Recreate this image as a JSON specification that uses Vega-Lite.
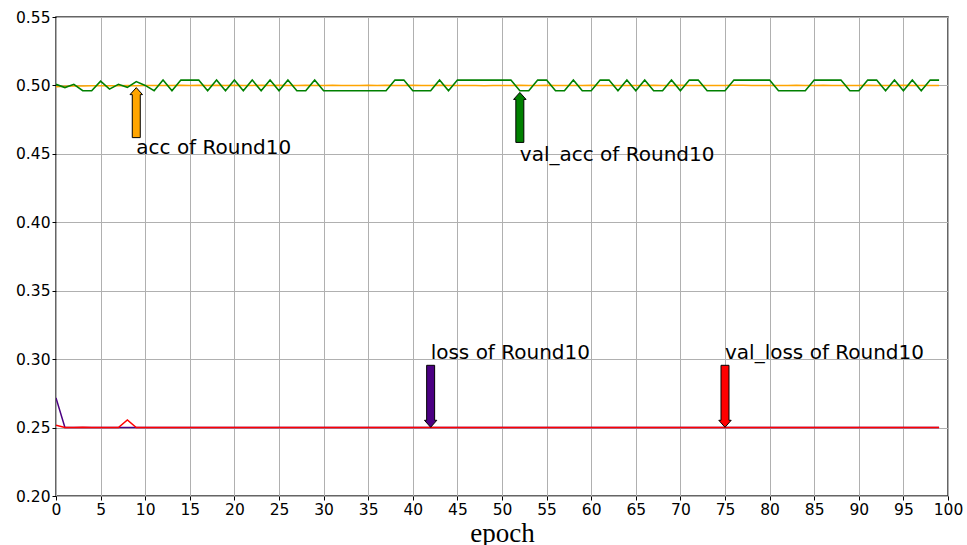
{
  "$schema": "https://vega.github.io/schema/vega-lite/v6.json",
  "width": 892,
  "height": 479,
  "autosize": "none",
  "padding": {"left": 56, "top": 17, "right": 19, "bottom": 49},
  "background": "white",
  "config": {
    "view": {"stroke": "#333333", "strokeWidth": 1.5},
    "font": "DejaVu Sans",
    "axis": {
      "labelFont": "DejaVu Sans",
      "labelFontSize": 15.5,
      "labelColor": "black",
      "labelFlush": false,
      "labelOverlap": false,
      "tickColor": "black",
      "tickSize": 4,
      "labelPadding": 2,
      "gridColor": "#b0b0b0",
      "gridWidth": 1,
      "domain": false
    }
  },
  "datasets": {
    "hist": [
      {"epoch":0,"acc":0.4991,"val_acc":0.5008,"loss":0.2717,"val_loss":0.2517},
      {"epoch":1,"acc":0.4994,"val_acc":0.4984,"loss":0.2501,"val_loss":0.2500},
      {"epoch":2,"acc":0.4995,"val_acc":0.5008,"loss":0.2500,"val_loss":0.2500},
      {"epoch":3,"acc":0.4996,"val_acc":0.4961,"loss":0.2500,"val_loss":0.2503},
      {"epoch":4,"acc":0.4997,"val_acc":0.4961,"loss":0.2500,"val_loss":0.2500},
      {"epoch":5,"acc":0.4997,"val_acc":0.5031,"loss":0.2500,"val_loss":0.2500},
      {"epoch":6,"acc":0.4998,"val_acc":0.4973,"loss":0.2500,"val_loss":0.2500},
      {"epoch":7,"acc":0.4998,"val_acc":0.5008,"loss":0.2500,"val_loss":0.2500},
      {"epoch":8,"acc":0.4999,"val_acc":0.4986,"loss":0.2500,"val_loss":0.2556},
      {"epoch":9,"acc":0.4998,"val_acc":0.5028,"loss":0.2500,"val_loss":0.2500},
      {"epoch":10,"acc":0.4999,"val_acc":0.5000,"loss":0.2500,"val_loss":0.2500},
      {"epoch":11,"acc":0.5000,"val_acc":0.4961,"loss":0.2500,"val_loss":0.2500},
      {"epoch":12,"acc":0.4999,"val_acc":0.5039,"loss":0.2500,"val_loss":0.2500},
      {"epoch":13,"acc":0.5000,"val_acc":0.4961,"loss":0.2500,"val_loss":0.2500},
      {"epoch":14,"acc":0.5001,"val_acc":0.5039,"loss":0.2500,"val_loss":0.2500},
      {"epoch":15,"acc":0.5000,"val_acc":0.5039,"loss":0.2500,"val_loss":0.2500},
      {"epoch":16,"acc":0.5001,"val_acc":0.5039,"loss":0.2500,"val_loss":0.2500},
      {"epoch":17,"acc":0.5000,"val_acc":0.4961,"loss":0.2500,"val_loss":0.2500},
      {"epoch":18,"acc":0.5001,"val_acc":0.5039,"loss":0.2500,"val_loss":0.2500},
      {"epoch":19,"acc":0.5000,"val_acc":0.4961,"loss":0.2500,"val_loss":0.2500},
      {"epoch":20,"acc":0.5001,"val_acc":0.5039,"loss":0.2500,"val_loss":0.2500},
      {"epoch":21,"acc":0.5000,"val_acc":0.4961,"loss":0.2500,"val_loss":0.2500},
      {"epoch":22,"acc":0.5000,"val_acc":0.5039,"loss":0.2500,"val_loss":0.2500},
      {"epoch":23,"acc":0.5001,"val_acc":0.4961,"loss":0.2500,"val_loss":0.2500},
      {"epoch":24,"acc":0.5000,"val_acc":0.5039,"loss":0.2500,"val_loss":0.2500},
      {"epoch":25,"acc":0.5001,"val_acc":0.4961,"loss":0.2500,"val_loss":0.2500},
      {"epoch":26,"acc":0.5000,"val_acc":0.5039,"loss":0.2500,"val_loss":0.2500},
      {"epoch":27,"acc":0.5000,"val_acc":0.4961,"loss":0.2500,"val_loss":0.2500},
      {"epoch":28,"acc":0.5001,"val_acc":0.4961,"loss":0.2500,"val_loss":0.2500},
      {"epoch":29,"acc":0.5000,"val_acc":0.5039,"loss":0.2500,"val_loss":0.2500},
      {"epoch":30,"acc":0.5000,"val_acc":0.4961,"loss":0.2500,"val_loss":0.2500},
      {"epoch":31,"acc":0.5001,"val_acc":0.4961,"loss":0.2500,"val_loss":0.2500},
      {"epoch":32,"acc":0.5000,"val_acc":0.4961,"loss":0.2500,"val_loss":0.2500},
      {"epoch":33,"acc":0.4999,"val_acc":0.4961,"loss":0.2500,"val_loss":0.2500},
      {"epoch":34,"acc":0.5000,"val_acc":0.4961,"loss":0.2500,"val_loss":0.2500},
      {"epoch":35,"acc":0.5001,"val_acc":0.4961,"loss":0.2500,"val_loss":0.2500},
      {"epoch":36,"acc":0.5000,"val_acc":0.4961,"loss":0.2500,"val_loss":0.2500},
      {"epoch":37,"acc":0.5001,"val_acc":0.4961,"loss":0.2500,"val_loss":0.2500},
      {"epoch":38,"acc":0.5000,"val_acc":0.5039,"loss":0.2500,"val_loss":0.2500},
      {"epoch":39,"acc":0.5000,"val_acc":0.5039,"loss":0.2500,"val_loss":0.2500},
      {"epoch":40,"acc":0.5001,"val_acc":0.4961,"loss":0.2500,"val_loss":0.2500},
      {"epoch":41,"acc":0.5000,"val_acc":0.4961,"loss":0.2500,"val_loss":0.2500},
      {"epoch":42,"acc":0.5000,"val_acc":0.4961,"loss":0.2500,"val_loss":0.2500},
      {"epoch":43,"acc":0.5001,"val_acc":0.5039,"loss":0.2500,"val_loss":0.2500},
      {"epoch":44,"acc":0.5000,"val_acc":0.4961,"loss":0.2500,"val_loss":0.2500},
      {"epoch":45,"acc":0.4999,"val_acc":0.5039,"loss":0.2500,"val_loss":0.2500},
      {"epoch":46,"acc":0.5000,"val_acc":0.5039,"loss":0.2500,"val_loss":0.2500},
      {"epoch":47,"acc":0.4999,"val_acc":0.5039,"loss":0.2500,"val_loss":0.2500},
      {"epoch":48,"acc":0.4997,"val_acc":0.5039,"loss":0.2500,"val_loss":0.2500},
      {"epoch":49,"acc":0.4999,"val_acc":0.5039,"loss":0.2500,"val_loss":0.2500},
      {"epoch":50,"acc":0.5000,"val_acc":0.5039,"loss":0.2500,"val_loss":0.2500},
      {"epoch":51,"acc":0.5000,"val_acc":0.5039,"loss":0.2500,"val_loss":0.2500},
      {"epoch":52,"acc":0.5001,"val_acc":0.4961,"loss":0.2500,"val_loss":0.2500},
      {"epoch":53,"acc":0.5000,"val_acc":0.4961,"loss":0.2500,"val_loss":0.2500},
      {"epoch":54,"acc":0.5000,"val_acc":0.5039,"loss":0.2500,"val_loss":0.2500},
      {"epoch":55,"acc":0.5001,"val_acc":0.5039,"loss":0.2500,"val_loss":0.2500},
      {"epoch":56,"acc":0.5000,"val_acc":0.4961,"loss":0.2500,"val_loss":0.2500},
      {"epoch":57,"acc":0.5000,"val_acc":0.4961,"loss":0.2500,"val_loss":0.2500},
      {"epoch":58,"acc":0.4999,"val_acc":0.5039,"loss":0.2500,"val_loss":0.2500},
      {"epoch":59,"acc":0.5000,"val_acc":0.4961,"loss":0.2500,"val_loss":0.2500},
      {"epoch":60,"acc":0.5001,"val_acc":0.4961,"loss":0.2500,"val_loss":0.2500},
      {"epoch":61,"acc":0.5000,"val_acc":0.5039,"loss":0.2500,"val_loss":0.2500},
      {"epoch":62,"acc":0.4999,"val_acc":0.5039,"loss":0.2500,"val_loss":0.2500},
      {"epoch":63,"acc":0.5000,"val_acc":0.4961,"loss":0.2500,"val_loss":0.2500},
      {"epoch":64,"acc":0.5000,"val_acc":0.5039,"loss":0.2500,"val_loss":0.2500},
      {"epoch":65,"acc":0.4999,"val_acc":0.4961,"loss":0.2500,"val_loss":0.2500},
      {"epoch":66,"acc":0.5000,"val_acc":0.5039,"loss":0.2500,"val_loss":0.2500},
      {"epoch":67,"acc":0.5001,"val_acc":0.4961,"loss":0.2500,"val_loss":0.2500},
      {"epoch":68,"acc":0.5000,"val_acc":0.4961,"loss":0.2500,"val_loss":0.2500},
      {"epoch":69,"acc":0.5000,"val_acc":0.5039,"loss":0.2500,"val_loss":0.2500},
      {"epoch":70,"acc":0.5001,"val_acc":0.4961,"loss":0.2500,"val_loss":0.2500},
      {"epoch":71,"acc":0.5000,"val_acc":0.5039,"loss":0.2500,"val_loss":0.2500},
      {"epoch":72,"acc":0.5000,"val_acc":0.5039,"loss":0.2500,"val_loss":0.2500},
      {"epoch":73,"acc":0.4999,"val_acc":0.4961,"loss":0.2500,"val_loss":0.2500},
      {"epoch":74,"acc":0.5000,"val_acc":0.4961,"loss":0.2500,"val_loss":0.2500},
      {"epoch":75,"acc":0.5000,"val_acc":0.4961,"loss":0.2500,"val_loss":0.2500},
      {"epoch":76,"acc":0.5001,"val_acc":0.5039,"loss":0.2500,"val_loss":0.2500},
      {"epoch":77,"acc":0.5001,"val_acc":0.5039,"loss":0.2500,"val_loss":0.2500},
      {"epoch":78,"acc":0.5000,"val_acc":0.5039,"loss":0.2500,"val_loss":0.2500},
      {"epoch":79,"acc":0.5000,"val_acc":0.5039,"loss":0.2500,"val_loss":0.2500},
      {"epoch":80,"acc":0.4999,"val_acc":0.5039,"loss":0.2500,"val_loss":0.2500},
      {"epoch":81,"acc":0.5000,"val_acc":0.4961,"loss":0.2500,"val_loss":0.2500},
      {"epoch":82,"acc":0.5000,"val_acc":0.4961,"loss":0.2500,"val_loss":0.2500},
      {"epoch":83,"acc":0.5001,"val_acc":0.4961,"loss":0.2500,"val_loss":0.2500},
      {"epoch":84,"acc":0.5000,"val_acc":0.4961,"loss":0.2500,"val_loss":0.2500},
      {"epoch":85,"acc":0.5000,"val_acc":0.5039,"loss":0.2500,"val_loss":0.2500},
      {"epoch":86,"acc":0.5001,"val_acc":0.5039,"loss":0.2500,"val_loss":0.2500},
      {"epoch":87,"acc":0.5000,"val_acc":0.5039,"loss":0.2500,"val_loss":0.2500},
      {"epoch":88,"acc":0.5000,"val_acc":0.5039,"loss":0.2500,"val_loss":0.2500},
      {"epoch":89,"acc":0.4999,"val_acc":0.4961,"loss":0.2500,"val_loss":0.2500},
      {"epoch":90,"acc":0.5000,"val_acc":0.4961,"loss":0.2500,"val_loss":0.2500},
      {"epoch":91,"acc":0.5001,"val_acc":0.5039,"loss":0.2500,"val_loss":0.2500},
      {"epoch":92,"acc":0.5000,"val_acc":0.5039,"loss":0.2500,"val_loss":0.2500},
      {"epoch":93,"acc":0.5000,"val_acc":0.4961,"loss":0.2500,"val_loss":0.2500},
      {"epoch":94,"acc":0.5000,"val_acc":0.5039,"loss":0.2500,"val_loss":0.2500},
      {"epoch":95,"acc":0.5001,"val_acc":0.4961,"loss":0.2500,"val_loss":0.2500},
      {"epoch":96,"acc":0.5000,"val_acc":0.5039,"loss":0.2500,"val_loss":0.2500},
      {"epoch":97,"acc":0.5000,"val_acc":0.4961,"loss":0.2500,"val_loss":0.2500},
      {"epoch":98,"acc":0.4999,"val_acc":0.5039,"loss":0.2500,"val_loss":0.2500},
      {"epoch":99,"acc":0.5000,"val_acc":0.5039,"loss":0.2500,"val_loss":0.2500}
    ],
    "notes": [
      {"series":"acc","label":"acc of Round10","tx":9,"ty":0.45,"ax":9,"ay":0.4984,"dir":"up"},
      {"series":"val_acc","label":"val_acc of Round10","tx":52,"ty":0.445,"ax":52,"ay":0.4949,"dir":"up"},
      {"series":"loss","label":"loss of Round10","tx":42,"ty":0.30,"ax":42,"ay":0.2502,"dir":"down"},
      {"series":"val_loss","label":"val_loss of Round10","tx":75,"ty":0.30,"ax":75,"ay":0.2502,"dir":"down"}
    ]
  },
  "layer": [
    {
      "data": {"name": "hist"},
      "mark": {"type": "line", "color": "orange", "strokeWidth": 1.5, "clip": true},
      "encoding": {
        "x": {"field": "epoch", "type": "quantitative", "title": "epoch",
              "scale": {"domain": [0, 100], "nice": false},
              "axis": {"values": [0,5,10,15,20,25,30,35,40,45,50,55,60,65,70,75,80,85,90,95,100],
                       "titleFont": "Liberation Serif", "titleFontSize": 27, "titleFontWeight": "normal",
                       "titleColor": "black", "titlePadding": 3}},
        "y": {"field": "acc", "type": "quantitative", "title": null,
              "scale": {"domain": [0.2, 0.55], "nice": false, "zero": false},
              "axis": {"values": [0.2,0.25,0.3,0.35,0.4,0.45,0.5,0.55], "format": ".2f"}}
      }
    },
    {
      "data": {"name": "hist"},
      "mark": {"type": "line", "color": "green", "strokeWidth": 1.6, "clip": true},
      "encoding": {
        "x": {"field": "epoch", "type": "quantitative", "title": "epoch"},
        "y": {"field": "val_acc", "type": "quantitative", "title": null}
      }
    },
    {
      "data": {"name": "hist"},
      "mark": {"type": "line", "color": "indigo", "strokeWidth": 1.5, "clip": true},
      "encoding": {
        "x": {"field": "epoch", "type": "quantitative", "title": "epoch"},
        "y": {"field": "loss", "type": "quantitative", "title": null}
      }
    },
    {
      "data": {"name": "hist"},
      "mark": {"type": "line", "color": "red", "strokeWidth": 1.5, "clip": true},
      "encoding": {
        "x": {"field": "epoch", "type": "quantitative", "title": "epoch"},
        "y": {"field": "val_loss", "type": "quantitative", "title": null}
      }
    },
    {
      "data": {"name": "notes"},
      "transform": [{"filter": "datum.dir === 'up'"}],
      "mark": {"type": "point", "filled": true, "opacity": 1, "stroke": "black", "strokeWidth": 1,
               "size": 2500,
               "shape": "M0,0L0.25,0.28L0.16,0.28L0.16,2L-0.16,2L-0.16,0.28L-0.25,0.28Z"},
      "encoding": {
        "x": {"field": "ax", "type": "quantitative", "title": "epoch"},
        "y": {"field": "ay", "type": "quantitative", "title": null},
        "fill": {"field": "series", "type": "nominal", "legend": null,
                 "scale": {"domain": ["acc","val_acc","loss","val_loss"], "range": ["orange","green","indigo","red"]}}
      }
    },
    {
      "data": {"name": "notes"},
      "transform": [{"filter": "datum.dir === 'down'"}],
      "mark": {"type": "point", "filled": true, "opacity": 1, "stroke": "black", "strokeWidth": 1,
               "size": 3844,
               "shape": "M0,0L0.2,-0.226L0.129,-0.226L0.129,-2L-0.129,-2L-0.129,-0.226L-0.2,-0.226Z"},
      "encoding": {
        "x": {"field": "ax", "type": "quantitative", "title": "epoch"},
        "y": {"field": "ay", "type": "quantitative", "title": null},
        "fill": {"field": "series", "type": "nominal", "legend": null}
      }
    },
    {
      "data": {"name": "notes"},
      "mark": {"type": "text", "align": "left", "baseline": "alphabetic", "font": "DejaVu Sans",
               "fontSize": 20, "color": "black"},
      "encoding": {
        "x": {"field": "tx", "type": "quantitative", "title": "epoch"},
        "y": {"field": "ty", "type": "quantitative", "title": null},
        "text": {"field": "label"}
      }
    }
  ]
}
